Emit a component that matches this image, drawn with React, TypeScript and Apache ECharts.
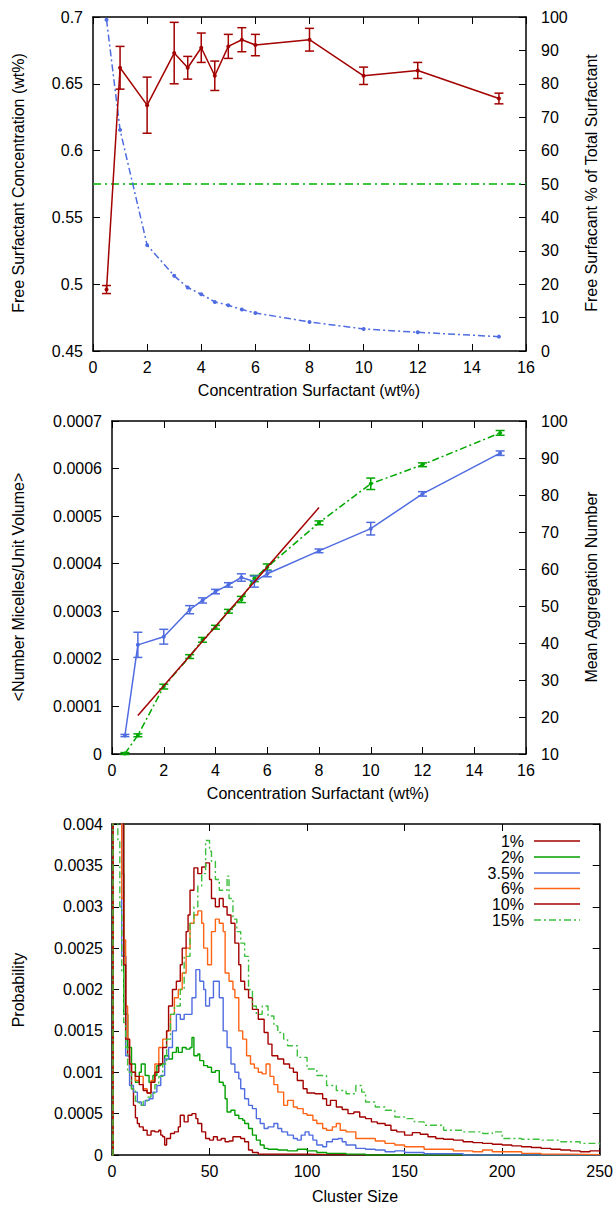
import React, { useEffect, useRef } from 'react';
import * as echarts from 'echarts';

const FONT = '"Liberation Sans", Arial, Helvetica, sans-serif';

// ---------- Panel 1 ----------
const conc = [0.5, 1, 2, 3, 3.5, 4, 4.5, 5, 5.5, 6, 8, 10, 12, 15];
const freeConc = [0.496, 0.662, 0.634, 0.673, 0.662, 0.677, 0.656, 0.678, 0.683, 0.679, 0.683, 0.656, 0.660, 0.639];
const freeConcErr = [0.003, 0.016, 0.021, 0.023, 0.0085, 0.011, 0.011, 0.009, 0.009, 0.008, 0.0085, 0.0065, 0.006, 0.004];
const freePct = [99.2, 66.2, 31.7, 22.5, 19, 17, 14.7, 13.7, 12.4, 11.4, 8.7, 6.6, 5.6, 4.3];
const halfLine = [[0, 50], [16, 50]];

// ---------- Panel 2 ----------
const micelleDensity = [0.000001, 0.0000393, 0.0001417, 0.0002048, 0.00024, 0.0002665, 0.0003, 0.0003248, 0.000369, 0.000393, 0.000486, 0.000568, 0.000608, 0.000675];
const micelleErr = [0.000002, 0.000003, 0.000005, 0.000004, 0.000005, 0.000004, 0.000004, 0.0000065, 0.0000065, 0.0000065, 0.000004, 0.000012, 0.000004, 0.000005];
const aggNum = [15, 39.5, 41.7, 49, 51.5, 53.9, 55.7, 57.7, 56.6, 58.7, 64.9, 70.9, 80.3, 91.3];
const aggErr = [0.3, 3.4, 2.0, 1.1, 0.7, 0.6, 0.6, 1.0, 1.5, 0.8, 0.5, 1.7, 0.6, 0.6];
const fitLine = [[1, 0.0000807], [8, 0.000518]];

// ---------- Panel 3 (cluster size histograms) ----------
const hist1 = [[0, 0], [0.5, 0.012], [5, 0.0034], [6, 0.0024], [7, 0.0017], [8, 0.0012], [9, 0.001], [10, 0.0008], [11, 0.0006], [12, 0.00045], [13, 0.00038], [14, 0.00034], [16, 0.0003], [18, 0.00024], [20, 0.00029], [22, 0.00028], [24, 0.0003], [25, 0.00024], [26, 0.00022], [27, 0.00012], [28, 0.0002], [30, 0.00026], [32, 0.00028], [34, 0.00034], [35, 0.00048], [37, 0.0004], [39, 0.00048], [41, 0.0005], [43, 0.00044], [44, 0.00038], [46, 0.00028], [48, 0.0002], [50, 0.00018], [52, 0.00022], [54, 0.00018], [56, 0.0002], [58, 0.00016], [60, 0.00017], [62, 0.00022], [64, 0.00022], [66, 0.0002], [68, 0.00016], [70, 0.00006], [72, 0.00003], [75, 0.00001], [100, 0.000005], [110, 0], [250, 0]];
const hist2 = [[0, 0], [0.5, 0.012], [4.5, 0.005], [6, 0.0017], [8, 0.0013], [10, 0.0011], [12, 0.00088], [14, 0.001], [15, 0.0011], [17, 0.00096], [19, 0.00088], [21, 0.00096], [23, 0.00108], [25, 0.0011], [27, 0.0012], [29, 0.00116], [31, 0.00124], [33, 0.0013], [34, 0.00124], [36, 0.0013], [38, 0.00128], [40, 0.0013], [41, 0.00142], [42, 0.0012], [44, 0.00122], [45, 0.00114], [47, 0.00108], [49, 0.00106], [51, 0.001], [53, 0.00102], [55, 0.00088], [57, 0.00084], [58, 0.00068], [59, 0.00052], [61, 0.00054], [63, 0.00048], [65, 0.00044], [67, 0.00042], [68, 0.00038], [70, 0.00032], [72, 0.00024], [74, 0.00018], [76, 0.00012], [78, 0.00008], [80, 0.00007], [85, 0.00006], [90, 0.00005], [95, 0.00007], [100, 0.00005], [105, 0.00003], [110, 0.00002], [120, 0.00001], [130, 0], [250, 0]];
const hist35 = [[0, 0], [0.5, 0.012], [5, 0.0024], [7, 0.0012], [9, 0.00084], [11, 0.00076], [13, 0.00064], [15, 0.0006], [17, 0.00066], [19, 0.00068], [21, 0.00076], [23, 0.00084], [25, 0.00096], [27, 0.00116], [29, 0.0013], [31, 0.0015], [33, 0.0017], [35, 0.00164], [37, 0.0017], [39, 0.0017], [41, 0.0019], [43, 0.00224], [45, 0.0021], [47, 0.002], [48, 0.0018], [50, 0.0019], [52, 0.0021], [54, 0.0021], [55, 0.0019], [57, 0.0015], [59, 0.0013], [61, 0.0011], [63, 0.001], [65, 0.00092], [66, 0.0008], [68, 0.00068], [70, 0.0006], [72, 0.00056], [74, 0.00044], [76, 0.00038], [78, 0.00032], [80, 0.00034], [83, 0.00038], [85, 0.00032], [87, 0.00028], [90, 0.00024], [93, 0.0002], [95, 0.00018], [97, 0.00024], [99, 0.00028], [101, 0.00024], [103, 0.00018], [105, 0.00012], [108, 0.0001], [110, 0.00016], [113, 0.00019], [116, 0.0002], [118, 0.00016], [120, 0.00012], [125, 0.00008], [130, 0.00007], [135, 0.00006], [140, 0.00004], [145, 0.00005], [150, 0.00003], [160, 0.000016], [180, 0], [250, 0]];
const hist6 = [[0, 0], [0.5, 0.012], [5, 0.0031], [6, 0.0026], [7, 0.0018], [8, 0.0014], [9, 0.0011], [10, 0.001], [12, 0.0009], [14, 0.00095], [16, 0.0008], [18, 0.00075], [20, 0.0009], [22, 0.0011], [24, 0.0013], [26, 0.0014], [28, 0.0015], [30, 0.0017], [32, 0.0019], [34, 0.002], [36, 0.0022], [38, 0.0025], [40, 0.0028], [42, 0.0029], [44, 0.00295], [46, 0.0028], [47, 0.0025], [49, 0.0023], [51, 0.0027], [53, 0.00285], [55, 0.0028], [57, 0.0027], [58, 0.0022], [60, 0.0021], [62, 0.002], [63, 0.0019], [65, 0.0015], [67, 0.0014], [69, 0.0012], [71, 0.0011], [73, 0.00105], [75, 0.001], [77, 0.00098], [79, 0.0011], [81, 0.00095], [83, 0.00085], [85, 0.00076], [88, 0.0006], [90, 0.00066], [93, 0.00058], [95, 0.00056], [98, 0.0005], [100, 0.00048], [103, 0.00042], [105, 0.00038], [108, 0.00032], [110, 0.0003], [113, 0.00034], [115, 0.00038], [117, 0.0003], [120, 0.00028], [125, 0.0002], [130, 0.0002], [135, 0.00017], [140, 0.00014], [145, 0.00012], [150, 0.0001], [160, 0.00007], [175, 0.00005], [185, 0.00004], [190, 0.00006], [195, 0.00004], [200, 0.00004], [210, 0.00002], [220, 0.00001], [235, 0.000005], [250, 0]];
const hist10 = [[0, 0], [0.5, 0.012], [6, 0.0023], [7, 0.0014], [9, 0.0011], [10, 0.001], [12, 0.00095], [14, 0.00085], [16, 0.00078], [18, 0.00075], [20, 0.00088], [22, 0.001], [24, 0.0011], [26, 0.0013], [28, 0.0015], [29, 0.0018], [31, 0.002], [33, 0.0021], [35, 0.0023], [36, 0.0025], [38, 0.0027], [39, 0.0029], [40, 0.0032], [42, 0.00347], [44, 0.0034], [46, 0.00348], [48, 0.00353], [50, 0.00333], [51, 0.0031], [53, 0.003], [55, 0.0031], [57, 0.003], [59, 0.0029], [61, 0.0028], [63, 0.00256], [65, 0.0023], [66, 0.0021], [68, 0.002], [70, 0.0019], [72, 0.00176], [75, 0.00164], [78, 0.00148], [80, 0.00134], [82, 0.0012], [85, 0.00116], [88, 0.0011], [91, 0.00105], [93, 0.001], [95, 0.0009], [98, 0.0008], [100, 0.00075], [104, 0.00074], [108, 0.00068], [110, 0.0006], [112, 0.00066], [115, 0.00058], [118, 0.00055], [121, 0.0005], [124, 0.00052], [127, 0.00046], [130, 0.00044], [133, 0.0004], [136, 0.00038], [140, 0.00036], [143, 0.0003], [146, 0.00028], [150, 0.00024], [154, 0.00027], [158, 0.00025], [162, 0.00022], [166, 0.0002], [170, 0.00019], [175, 0.00018], [180, 0.00016], [185, 0.00015], [190, 0.00014], [195, 0.00013], [200, 0.00012], [205, 0.00011], [210, 0.0001], [215, 0.00009], [220, 0.00008], [225, 0.00007], [230, 0.00006], [235, 0.00005], [240, 0.00004], [245, 0.00005], [250, 0.00004]];
const hist15 = [[0, 0], [0.5, 0.012], [3, 0.0038], [4, 0.003], [5, 0.0022], [6, 0.0016], [7, 0.0013], [8, 0.001], [10, 0.0008], [12, 0.00065], [14, 0.0006], [16, 0.00065], [18, 0.0007], [20, 0.00075], [22, 0.00085], [24, 0.00095], [26, 0.0011], [28, 0.0014], [30, 0.0017], [32, 0.0018], [35, 0.002], [37, 0.0024], [40, 0.0028], [42, 0.003], [44, 0.00325], [46, 0.0034], [48, 0.0038], [50, 0.00367], [51, 0.00355], [53, 0.00333], [55, 0.0032], [57, 0.0032], [59, 0.00337], [60, 0.0031], [62, 0.00285], [64, 0.0027], [66, 0.00256], [68, 0.0024], [70, 0.002], [72, 0.0018], [74, 0.0017], [77, 0.0018], [80, 0.00168], [83, 0.00156], [85, 0.00148], [88, 0.0014], [90, 0.00132], [95, 0.00118], [100, 0.00104], [105, 0.00096], [110, 0.00084], [115, 0.00078], [120, 0.00074], [125, 0.00084], [128, 0.00076], [130, 0.00064], [135, 0.00058], [140, 0.00054], [145, 0.00046], [150, 0.00044], [155, 0.0004], [160, 0.00036], [170, 0.0003], [180, 0.00028], [190, 0.00026], [195, 0.00028], [200, 0.0002], [210, 0.00019], [220, 0.00018], [230, 0.00016], [240, 0.00014], [250, 0.00012]];

const histLabels = ['1%', '2%', '3.5%', '6%', '10%', '15%'];
const histData = [hist1, hist2, hist35, hist6, hist10, hist15];
const histColors = ['#a30000', '#00a000', '#4f6ce0', '#ff6414', '#a30000', '#3cbf3c'];
const histDashed = [false, false, false, false, false, true];

const DARK_RED = '#a30000';
const BLUE = '#4f6ce0';
const GREEN = '#00a800';
const DASHDOT = [7, 3, 2, 3];

const fmt = (v: number) => String(parseFloat(Number(v).toFixed(6)));

function xAxis(gridIndex: number, min: number, max: number, interval: number, position: string, showLabel: boolean) {
  return {
    type: 'value', gridIndex, min, max, interval, position,
    axisLine: { show: true, onZero: false, lineStyle: { color: '#000', width: 1.5 } },
    axisTick: { show: true, inside: true, length: 7, lineStyle: { color: '#000', width: 1 } },
    axisLabel: { show: showLabel, color: '#000', fontSize: 16, fontFamily: FONT, margin: 8, showMinLabel: true, showMaxLabel: true, formatter: fmt },
    splitLine: { show: false },
  };
}
function yAxis(gridIndex: number, min: number, max: number, interval: number, position: string, showLabel: boolean, margin: number) {
  return {
    type: 'value', gridIndex, min, max, interval, position,
    axisLine: { show: true, onZero: false, lineStyle: { color: '#000', width: 1.5 } },
    axisTick: { show: true, inside: true, length: 7, lineStyle: { color: '#000', width: 1 } },
    axisLabel: { show: showLabel, color: '#000', fontSize: 16, fontFamily: FONT, margin, showMinLabel: true, showMaxLabel: true, formatter: fmt },
    splitLine: { show: false },
  };
}

function errorBars(xIdx: number, yIdx: number, xs: number[], ys: number[], errs: number[], color: string, cap: number) {
  return {
    type: 'custom', xAxisIndex: xIdx, yAxisIndex: yIdx, silent: true, z: 3,
    data: xs.map((x, i) => [x, ys[i] - errs[i], ys[i] + errs[i]]),
    encode: { x: 0, y: [1, 2] },
    renderItem: (params: any, api: any) => {
      const x = api.value(0);
      const lo = api.coord([x, api.value(1)]);
      const hi = api.coord([x, api.value(2)]);
      const st = { stroke: color, lineWidth: 1.5 };
      return {
        type: 'group',
        children: [
          { type: 'line', shape: { x1: lo[0], y1: lo[1], x2: hi[0], y2: hi[1] }, style: st },
          { type: 'line', shape: { x1: lo[0] - cap, y1: lo[1], x2: lo[0] + cap, y2: lo[1] }, style: st },
          { type: 'line', shape: { x1: hi[0] - cap, y1: hi[1], x2: hi[0] + cap, y2: hi[1] }, style: st },
        ],
      };
    },
  };
}

function pointLine(xIdx: number, yIdx: number, xs: number[], ys: number[], color: string, dashed: boolean) {
  return {
    type: 'line', xAxisIndex: xIdx, yAxisIndex: yIdx, z: 4,
    data: xs.map((x, i) => [x, ys[i]]),
    symbol: 'circle', symbolSize: 4, showSymbol: true,
    itemStyle: { color },
    lineStyle: { color, width: 1.5, type: dashed ? DASHDOT : 'solid' },
  };
}

function title(text: string, x: number, y: number, vertical: boolean) {
  return {
    type: 'text', x, y, rotation: vertical ? Math.PI / 2 : 0,
    style: { text, x: 0, y: 0, fill: '#000', font: `16px ${FONT}`, align: 'center', verticalAlign: 'middle' },
  };
}

const legendRowsY = [841, 857, 873, 888.5, 904, 920];

export default function App() {
  const ref = useRef<HTMLDivElement>(null);
  useEffect(() => {
    const chart = echarts.init(ref.current!, null, { renderer: 'svg' });
    const graphic: any[] = [
      title('Concentration Surfactant (wt%)', 309, 390, false),
      title('Free Surfactant Concentration (wt%)', 18, 183, true),
      title('Free Surfacant % of Total Surfactant', 591, 183, true),
      title('Concentration Surfactant (wt%)', 318, 793, false),
      title('<Number Micelles/Unit Volume>', 18, 587, true),
      title('Mean Aggregation Number', 591, 587, true),
      title('Cluster Size', 355, 1196, false),
      title('Probability', 18, 990, true),
    ];
    histLabels.forEach((lab, i) => {
      graphic.push({
        type: 'text', x: 524, y: legendRowsY[i],
        style: { text: lab, fill: '#000', font: `16px ${FONT}`, align: 'right', verticalAlign: 'middle' },
      });
      graphic.push({
        type: 'line', shape: { x1: 534, y1: legendRowsY[i], x2: 580, y2: legendRowsY[i] },
        style: { stroke: histColors[i], lineWidth: 1.5, lineDash: histDashed[i] ? DASHDOT : null },
      });
    });

    const option: any = {
      animation: false,
      backgroundColor: '#fff',
      grid: [
        { left: 93, top: 17, width: 433, height: 334 },
        { left: 112, top: 421, width: 414, height: 333 },
        { left: 112, top: 824, width: 488, height: 331 },
      ],
      xAxis: [
        xAxis(0, 0, 16, 2, 'bottom', true),
        xAxis(0, 0, 16, 2, 'top', false),
        xAxis(1, 0, 16, 2, 'bottom', true),
        xAxis(1, 0, 16, 2, 'top', false),
        xAxis(2, 0, 250, 50, 'bottom', true),
        xAxis(2, 0, 250, 50, 'top', false),
      ],
      yAxis: [
        yAxis(0, 0.45, 0.7, 0.05, 'left', true, 10),
        yAxis(0, 0, 100, 10, 'right', true, 15),
        yAxis(1, 0, 0.0007, 0.0001, 'left', true, 10),
        yAxis(1, 10, 100, 10, 'right', true, 15),
        yAxis(2, 0, 0.004, 0.0005, 'left', true, 9),
        yAxis(2, 0, 0.004, 0.0005, 'right', false, 9),
      ],
      graphic,
      series: [
        // panel 1
        {
          type: 'line', xAxisIndex: 0, yAxisIndex: 1, data: halfLine, showSymbol: false, z: 2,
          lineStyle: { color: '#00b400', width: 1.5, type: [8, 4, 2, 4] },
        },
        pointLine(0, 1, conc, freePct, BLUE, true),
        errorBars(0, 0, conc, freeConc, freeConcErr, DARK_RED, 4.5),
        pointLine(0, 0, conc, freeConc, DARK_RED, false),
        // panel 2
        errorBars(2, 2, conc, micelleDensity, micelleErr, GREEN, 4.5),
        pointLine(2, 2, conc, micelleDensity, GREEN, true),
        errorBars(2, 3, conc, aggNum, aggErr, BLUE, 4.5),
        pointLine(2, 3, conc, aggNum, BLUE, false),
        {
          type: 'line', xAxisIndex: 2, yAxisIndex: 2, data: fitLine, showSymbol: false, z: 5,
          lineStyle: { color: DARK_RED, width: 1.5 },
        },
        // panel 3
        ...histData.map((d, i) => ({
          type: 'line', name: histLabels[i], xAxisIndex: 4, yAxisIndex: 4, data: d,
          step: 'end', showSymbol: false, clip: true, z: 2 + i,
          lineStyle: { color: histColors[i], width: 1.4, type: histDashed[i] ? DASHDOT : 'solid' },
        })),
      ],
    };
    chart.setOption(option);
    return () => chart.dispose();
  }, []);
  return <div ref={ref} style={{ position: 'absolute', left: 0, top: 0, width: 616, height: 1207, background: '#fff' }} />;
}
